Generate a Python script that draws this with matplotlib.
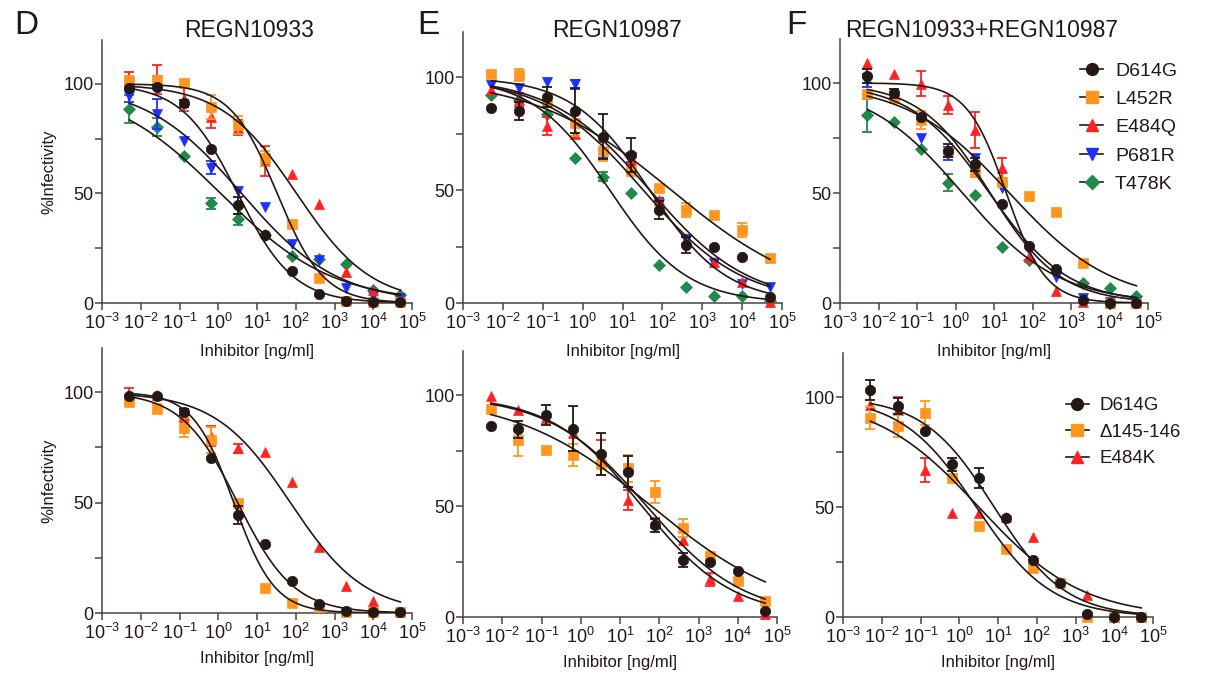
import numpy as np
import matplotlib.pyplot as plt
from matplotlib.lines import Line2D
from matplotlib.ticker import NullLocator

plt.rcParams['font.family'] = ['Liberation Sans', 'DejaVu Sans']
plt.rcParams['mathtext.fontset'] = 'custom'
plt.rcParams['mathtext.rm'] = 'Liberation Sans'
plt.rcParams['mathtext.it'] = 'Liberation Sans:italic'

# === Data ===
conc = [0.00512, 0.0256, 0.128, 0.64, 3.2, 16, 80, 400, 2000, 10000, 50000]

top_variants = ["D614G", "L452R", "E484Q", "P681R", "T478K"]
bot_variants = ["D614G", "Δ145-146", "E484K"]

# REGN10933, top row
r33_top = {
    "D614G": [98.2, 98.4, 91.1, 70.4, 44.5, 31.1, 14.5, 4.3, 0.9, 0.6, 0.4],
    "L452R": [101.4, 101.8, 100.4, 89.4, 81.3, 66.0, 36.2, 11.3, 0.8, 0.3, 0.3],
    "E484Q": [101.5, 102.0, 93.0, 85.0, 80.0, 64.8, 59.0, 45.0, 14.2, 6.0, 1.5],
    "P681R": [94.5, 86.2, 74.1, 61.7, 51.1, 43.8, 26.7, 19.5, 7.0, 3.0, 2.5],
    "T478K": [88.5, 80.4, 67.3, 45.6, 38.2, 31.0, 21.4, 20.0, 17.6, 6.0, 3.8],
}
r33_top_err = {
    "D614G": [0, 0, 1.5, 0, 4, 0, 0, 0, 0, 0, 0],
    "L452R": [2, 2, 0, 5.5, 4, 3.5, 0, 0, 0, 0, 0],
    "E484Q": [4, 6.5, 5.5, 5, 3.5, 7, 0, 0, 0, 0, 0],
    "P681R": [3, 7, 0, 3, 0, 0, 0, 0, 0, 0, 0],
    "T478K": [6.5, 4, 0, 2.5, 2.5, 0, 0, 0, 0, 0, 0],
}

# REGN10987, top row
r87_top = {
    "D614G": [86.4, 84.9, 91.3, 85.1, 73.6, 65.5, 41.2, 25.7, 24.9, 20.5, 2.5],
    "L452R": [101.3, 100.9, 89.0, 79.5, 67.4, 58.4, 51.0, 41.2, 39.0, 32.3, 20.0],
    "E484Q": [94.3, 90.0, 78.3, 75.0, 73.5, 63.3, 45.6, 27.8, 18.3, 9.5, 0.6],
    "P681R": [96.5, 95.0, 98.0, 96.9, 66.0, 64.6, 43.7, 28.0, 17.5, 8.6, 6.9],
    "T478K": [92.0, 90.0, 83.8, 64.3, 55.9, 48.8, 16.8, 7.1, 3.3, 3.0, 1.0],
}
r87_top_err = {
    "D614G": [0, 4, 4.5, 10, 10, 7.5, 4, 3.5, 0, 0, 0],
    "L452R": [0, 2.5, 0, 5.5, 4.5, 0, 0, 3, 0, 3, 0],
    "E484Q": [0, 3, 4, 0, 0, 0, 0, 0, 0, 0, 0],
    "P681R": [0, 0, 0, 2, 2, 2, 3, 2, 0, 0, 0],
    "T478K": [0, 0, 0, 0, 2, 0, 0, 0, 0, 0, 0],
}

# REGN10933+REGN10987, top row
mix_top = {
    "D614G": [103.2, 95.3, 84.5, 69.2, 63.0, 45.0, 26.1, 15.6, 1.4, 0.2, 0.2],
    "L452R": [95.0, 93.0, 83.3, 68.8, 59.4, 55.2, 48.8, 41.2, 18.0, 0.2, 0.2],
    "E484Q": [109.0, 104.0, 99.6, 90.0, 78.6, 61.2, 21.0, 5.6, 0.6, 0.2, 0.5],
    "P681R": [101.0, 94.0, 74.8, 67.8, 65.8, 52.2, 24.0, 12.0, 2.3, 0.5, 0.5],
    "T478K": [85.4, 82.3, 69.8, 54.7, 49.1, 25.4, 19.4, 14.0, 9.3, 6.7, 3.2],
}
mix_top_err = {
    "D614G": [3, 2, 0, 3, 3, 0, 0, 0, 0, 0, 0],
    "L452R": [0, 2, 4, 0, 2, 0, 0, 0, 0, 0, 0],
    "E484Q": [0, 0, 5.7, 4, 8, 4.5, 0, 0, 0, 0, 0],
    "P681R": [3, 0, 0, 3, 0, 0, 0, 0, 0, 0, 0],
    "T478K": [7.5, 0, 0, 4, 0, 0, 0, 0, 0, 0, 0],
}

# bottom row
r33_bot = {
    "D614G": [98.2, 98.4, 91.1, 70.4, 44.5, 31.1, 14.5, 4.3, 0.9, 0.6, 0.4],
    "Δ145-146": [95.6, 92.6, 84.0, 78.3, 49.6, 11.2, 4.7, 2.9, 0.6, 0.6, 0.6],
    "E484K": [98.5, 98.5, 89.6, 80.0, 74.5, 73.0, 59.4, 30.0, 12.4, 5.3, 0.6],
}
r33_bot_err = {
    "D614G": [0, 0, 1.5, 0, 4, 0, 0, 0, 0, 0, 0],
    "Δ145-146": [0, 2, 4.5, 6, 0, 0, 0, 0, 0, 0, 0],
    "E484K": [3.5, 0, 3, 4.5, 2, 0, 0, 0, 0, 0, 0],
}
r87_bot = {
    "D614G": [86.2, 84.6, 91.0, 85.0, 73.7, 65.5, 41.4, 25.7, 24.9, 20.7, 2.9],
    "Δ145-146": [94.0, 79.7, 75.2, 73.0, 68.9, 67.0, 56.4, 40.0, 27.5, 16.4, 7.2],
    "E484K": [99.5, 93.2, 90.0, 83.0, 72.0, 52.7, 42.5, 34.7, 17.0, 9.5, 1.3],
}
r87_bot_err = {
    "D614G": [0, 4, 4.5, 10, 9.5, 7, 3, 3, 0, 0, 0],
    "Δ145-146": [0, 7, 0, 5, 5, 6, 5, 4, 0, 0, 0],
    "E484K": [0, 0, 0, 0, 8, 4.5, 2, 0, 3, 0, 0],
}
mix_bot = {
    "D614G": [103.2, 95.9, 84.7, 69.5, 63.3, 45.0, 25.9, 15.6, 1.4, 0.2, 0.2],
    "Δ145-146": [90.6, 86.8, 92.9, 63.3, 41.2, 30.9, 22.3, 15.6, 0.2, 0.2, 0.2],
    "E484K": [96.4, 94.0, 66.8, 47.1, 47.4, 45.6, 36.2, 16.0, 10.2, 0.2, 0.2],
}
mix_bot_err = {
    "D614G": [4.5, 3.5, 0, 3, 4.5, 0, 0, 0, 0, 0, 0],
    "Δ145-146": [5, 5, 5.5, 0, 0, 0, 0, 0, 0, 0, 0],
    "E484K": [0, 6, 5.3, 0, 0, 0, 0, 0, 0, 0, 0],
}

# === Styles ===
W, H = 1225, 676
CURVE = '#231815'
AXC = '#4a4443'
STYLE = {
    "D614G": dict(marker='o', color='#231815', ms=7.5),
    "L452R": dict(marker='s', color='#ff961e', ms=7.5),
    "E484Q": dict(marker='^', color='#ff2222', ms=7.5),
    "P681R": dict(marker='v', color='#1e30ff', ms=7.5),
    "T478K": dict(marker='D', color='#21894b', ms=6.5),
    "Δ145-146": dict(marker='s', color='#ff961e', ms=7.5),
    "E484K": dict(marker='^', color='#ff2222', ms=7.5),
}


def fit_curve(x, y):
    # 4PL with top=100, bottom=0: grid search on logIC50 and hill slope
    lx = np.log10(np.asarray(x))
    y = np.asarray(y)
    logc = np.linspace(-3, 6, 451)
    hill = np.linspace(0.15, 3, 115)
    L, Hs = np.meshgrid(logc, hill, indexing='ij')
    pred = 100 / (1 + 10 ** ((lx[None, None, :] - L[..., None]) * Hs[..., None]))
    sse = ((pred - y) ** 2).sum(-1)
    i, j = np.unravel_index(sse.argmin(), sse.shape)
    return logc[i], hill[j]


def draw_panel(rect, values, errors, order, ylabel=False, xpad=6):
    left, top, right, bottom = rect
    ax = fig.add_axes([left / W, 1 - bottom / H, (right - left) / W, (bottom - top) / H])
    ax.patch.set_visible(False)
    xs = np.array(conc)
    xf = np.logspace(np.log10(xs[0]), np.log10(xs[-1]), 300)
    for name in reversed(order):
        st = STYLE[name]
        y = np.array(values[name])
        e = np.array(errors[name])
        lc, h = fit_curve(xs, y)
        ax.plot(xf, 100 / (1 + 10 ** ((np.log10(xf) - lc) * h)), color=CURVE, lw=1.2, zorder=4)
        m = e > 0
        if m.any():
            ax.errorbar(xs[m], y[m], yerr=e[m], fmt='none', ecolor=st['color'],
                        elinewidth=1.3, capsize=3.5, capthick=1.3, zorder=3, clip_on=False)
        ax.plot(xs, y, linestyle='none', marker=st['marker'], ms=st['ms'],
                mfc=st['color'], mec=st['color'], mew=0.5, zorder=3, clip_on=False)

    ax.set_xscale('log')
    ax.set_xlim(1e-3, 1e5)
    ax.set_ylim(0, 120)
    ax.set_xticks(10.0 ** np.arange(-3, 6))
    ax.set_xticklabels([r'$\mathregular{10^{%d}}$' % k for k in range(-3, 6)])
    ax.xaxis.set_minor_locator(NullLocator())
    ax.set_yticks([0, 50, 100])
    ax.set_yticks([25, 75], minor=True)
    for s in ['top', 'right']:
        ax.spines[s].set_visible(False)
    for s in ['left', 'bottom']:
        ax.spines[s].set_color(AXC)
        ax.spines[s].set_linewidth(1.1)
    ax.tick_params(which='both', direction='out', length=5, width=1.1, color=AXC,
                   labelsize=13, labelcolor='#231815')
    ax.tick_params(axis='y', pad=1)
    ax.tick_params(axis='x', pad=2)
    ax.set_xlabel("Inhibitor [ng/ml]", fontsize=12, labelpad=xpad, color='#231815')
    if ylabel:
        ax.set_ylabel("%Infectivity", fontsize=12, labelpad=5, color='#231815')
    return ax


def add_legend(ax, order, x0, y0, fs, spacing):
    handles = [Line2D([], [], color=CURVE, lw=1.2, marker=STYLE[n]['marker'],
                      ms=STYLE[n]['ms'] + 1, mfc=STYLE[n]['color'], mec=STYLE[n]['color'])
               for n in order]
    fig.legend(handles, order, loc='upper left', bbox_to_anchor=(x0 / W, 1 - y0 / H),
               frameon=False, fontsize=fs, handlelength=1.2, handletextpad=0.6,
               labelspacing=spacing, borderpad=0, borderaxespad=0, labelcolor='#231815')


# === Figure ===
fig = plt.figure(figsize=(W / 100, H / 100), dpi=100)

ax_d = draw_panel((102, 40, 412, 303), r33_top, r33_top_err, top_variants, ylabel=True, xpad=8)
ax_e = draw_panel((463, 32, 782, 303), r87_top, r87_top_err, top_variants, xpad=8)
ax_f = draw_panel((840, 39, 1148, 303), mix_top, mix_top_err, top_variants, xpad=8)
draw_panel((102, 348, 412, 613), r33_bot, r33_bot_err, bot_variants, ylabel=True, xpad=6)
draw_panel((463, 351, 777, 617), r87_bot, r87_bot_err, bot_variants, xpad=6)
ax_fb = draw_panel((843, 353, 1153, 617), mix_bot, mix_bot_err, bot_variants, xpad=6)

add_legend(ax_f, top_variants, 1080, 62, 14, 0.55)
add_legend(ax_fb, bot_variants, 1066, 397, 13.5, 0.5)

# panel letters and titles
for letter, x in [("D", 14), ("E", 417), ("F", 786)]:
    fig.text(x / W, 1 - 34 / H, letter, fontsize=24, va='baseline', ha='left', color='#231815')
for title, x in [("REGN10933", 249), ("REGN10987", 617), ("REGN10933+REGN10987", 982)]:
    fig.text(x / W, 1 - 37 / H, title, fontsize=16.5, va='baseline', ha='center', color='#231815')

fig.savefig("out.png", dpi=100)
